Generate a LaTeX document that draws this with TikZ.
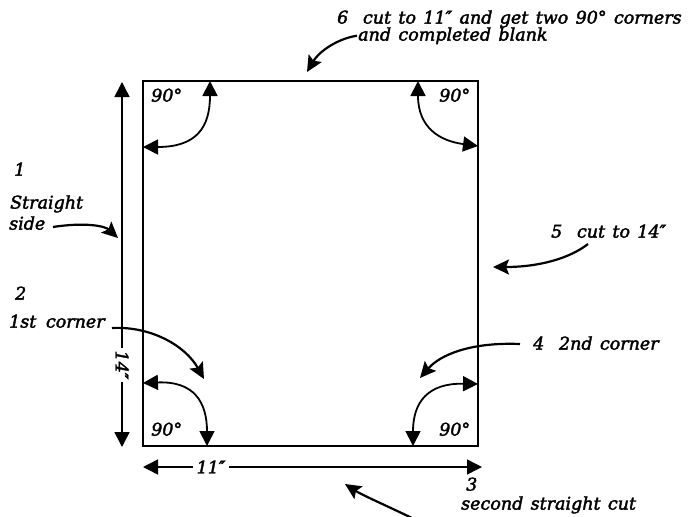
\documentclass[tikz,border=0pt]{standalone}
\usepackage{fontspec}
\setmainfont{DejaVu Serif}
\newfontfamily\lblfont{DejaVu Serif}[FakeBold=2.2]
\newcommand\lblstyle{\lblfont\itshape\fontsize{17.5}{20}\selectfont\spaceskip=0.42em\relax}
\usetikzlibrary{arrows.meta}
\begin{document}
\begin{tikzpicture}[x=1pt,y=-1pt,
  lbl/.style={anchor=mid west,inner sep=0pt,font=\lblstyle},
  deg/.style={lbl},
  edge/.style={line width=1.4pt},
  dimline/.style={line width=1.5pt,{Triangle[length=15pt,width=15pt]}-{Triangle[length=15pt,width=15pt]}},
  cornerarc/.style={line width=1.8pt,{Triangle[length=15pt,width=15pt]}-{Triangle[length=15pt,width=15pt]}},
  callout/.style={line width=2.2pt,-{Stealth[length=16pt,width=15pt,inset=3pt]}}]
\useasboundingbox (0,0) rectangle (697,517);
% blank
\coordinate (TL) at (143,81);
\coordinate (TR) at (478,81);
\coordinate (BR) at (478,446);
\coordinate (BL) at (143,446);
\draw[edge] (TL) -- (TR) -- (BR) -- (BL) -- cycle;
% dimensions
\coordinate (dT) at (122,82);
\coordinate (dB) at (122,447);
\draw[dimline] (dT) -- (dB);
\node[lbl,anchor=center,rotate=-90,fill=white,inner sep=3pt] (h14) at (122,365) {14″};
\coordinate (wL) at (143,467);
\coordinate (wR) at (482,467);
\draw[dimline] (wL) -- (wR);
\node[lbl,anchor=center,fill=white,inner xsep=4pt,inner ysep=2pt] (w11) at (211,467) {11″};
% corner arcs
\coordinate (a1) at (143,147); \coordinate (a2) at (210,81);
\draw[cornerarc] (a1) .. controls (196,147) and (210,128) .. (a2);
\coordinate (b1) at (418,81); \coordinate (b2) at (478,146);
\draw[cornerarc] (b1) .. controls (418,128) and (440,141) .. (b2);
\coordinate (c1) at (143,383); \coordinate (c2) at (207,446);
\draw[cornerarc] (c1) .. controls (194,381) and (207,402) .. (c2);
\coordinate (d1) at (413,446); \coordinate (d2) at (478,384);
\draw[cornerarc] (d1) .. controls (413,402) and (428,383) .. (d2);
% angle labels
\node[deg] (g1) at (151,99) {90°};
\node[deg] (g2) at (439,99) {90°};
\node[deg] (g3) at (151,433) {90°};
\node[deg] (g4) at (439,433) {90°};
% step labels
\node[lbl] (s6a) at (337,21) {6\ \ cut to 11″ and get two 90° corners};
\node[lbl] (s6b) at (358,38) {and completed blank};
\node[lbl] (s1) at (14,173) {1};
\node[lbl] (s1a) at (10,206) {Straight};
\node[lbl] (s1b) at (9,227) {side};
\node[lbl] (s2) at (15,297) {2};
\node[lbl] (s2a) at (9,325) {1st\hspace{0.55em}corner};
\node[lbl] (s5) at (551,235) {5\ \ cut to 14″};
\node[lbl] (s4) at (533,347) {4\ \ 2nd corner};
\node[lbl] (s3) at (466,488) {3};
\node[lbl] (s3a) at (461,507) {second straight cut};
% callout arrows
\coordinate (e6) at (307,72);
\draw[callout] (s6b.west) ++(-1,0) .. controls (340,38) and (320,50) .. (e6);
\coordinate (e1) at (118,238);
\coordinate (t1) at (53,227);
\draw[callout] (t1) .. controls (85,222) and (105,226) .. (e1);
\coordinate (e2) at (204,379);
\coordinate (t2) at (112,328);
\draw[callout] (t2) .. controls (150,326) and (185,345) .. (e2);
\coordinate (e5) at (493,267);
\coordinate (t5) at (588,244);
\draw[callout] (t5) .. controls (570,258) and (540,267) .. (e5);
\coordinate (e4) at (420,378);
\coordinate (t4) at (520,344);
\draw[callout] (t4) .. controls (470,342) and (440,355) .. (e4);
\coordinate (e3) at (345,484);
\coordinate (t3) at (412,518);
\draw[callout] (t3) .. controls (385,505) and (362,495) .. (e3);
\end{tikzpicture}
\end{document}
